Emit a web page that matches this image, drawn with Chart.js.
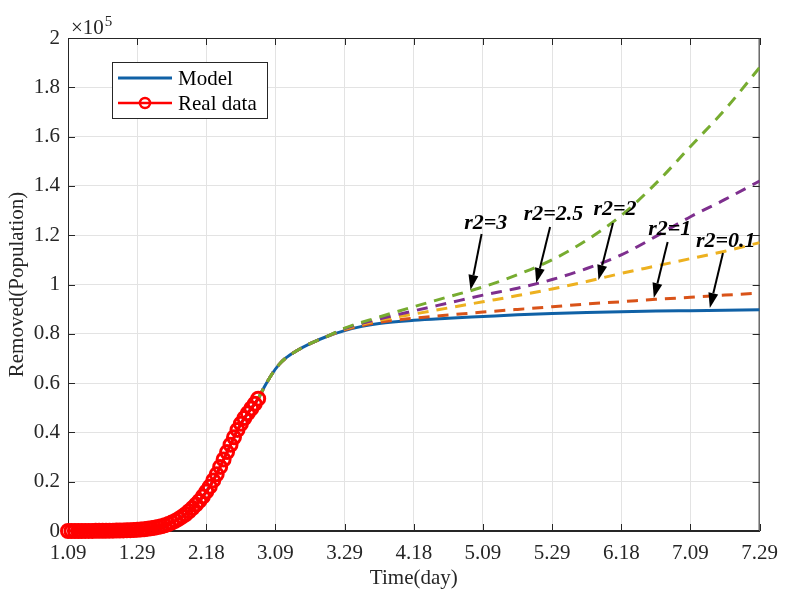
<!DOCTYPE html>
<html>
<head>
<meta charset="utf-8">
<script src="https://cdn.jsdelivr.net/npm/chart.js@4.4.1/dist/chart.umd.min.js"></script>
<style>
  html, body { margin: 0; padding: 0; background: #fff; }
  #wrap { width: 788px; height: 593px; }
</style>
</head>
<body>
<div id="wrap"><canvas id="removed-chart" width="788" height="593"></canvas></div>
<script>
// tick labels (dates, one tick every 20 days)
const xTickLabels = ["1.09", "1.29", "2.18", "3.09", "3.29", "4.18", "5.09", "5.29", "6.18", "7.09", "7.29"];
const yTickLabels = ["0", "0.2", "0.4", "0.6", "0.8", "1", "1.2", "1.4", "1.6", "1.8", "2"];
const daysPerTick = 20;

// real data, one value per day from 1.09 (x10^5 people)
const realData = [
    0, 0, 0, 0, 0, 0.0005, 0.0005, 0.0005, 0.001, 0.001,
    0.001, 0.001, 0.0015, 0.0015, 0.002, 0.002, 0.0025, 0.003, 0.0035, 0.004,
    0.005, 0.006, 0.007, 0.009, 0.011, 0.013, 0.016, 0.019, 0.023, 0.028,
    0.034, 0.041, 0.049, 0.058, 0.068, 0.08, 0.093, 0.107, 0.122, 0.14,
    0.16, 0.18, 0.205, 0.23, 0.26, 0.29, 0.32, 0.35, 0.38, 0.41,
    0.435, 0.458, 0.478, 0.497, 0.516, 0.537
];

// model curve
const modelX = [0, 0.5, 1.0, 1.2, 1.4, 1.5, 1.6, 1.7, 1.8, 1.9, 2.0, 2.1, 2.2, 2.3, 2.4, 2.5, 2.6, 2.75,
    2.85, 2.95, 3.05, 3.15, 3.3, 3.5, 3.75, 4.0, 4.25, 4.5, 5.0, 5.5, 6.0, 6.5, 7.0, 7.5, 8.0, 8.5, 9.0, 9.5, 10];
const modelY = [0, 0.0005, 0.0025, 0.006, 0.016, 0.034, 0.049, 0.068, 0.093, 0.122, 0.16, 0.205, 0.26, 0.32, 0.38, 0.435, 0.478, 0.537,
    0.59, 0.637, 0.675, 0.702, 0.73, 0.76, 0.79, 0.813, 0.83, 0.842, 0.855, 0.863, 0.87, 0.877, 0.882, 0.886, 0.889, 0.892, 0.894, 0.896, 0.898];

// r2 scenarios
const scenarioX = [2.75, 2.85, 2.95, 3.05, 3.15, 3.3, 3.5, 3.75, 4.0, 4.5, 5.0, 5.5, 6.0, 6.5, 7.0, 7.5, 8.0, 8.5, 9.0, 9.5, 10];
const r2_1 = [0.537, 0.59, 0.637, 0.675, 0.702, 0.73, 0.76, 0.79, 0.816, 0.847, 0.863, 0.876, 0.888, 0.899, 0.91, 0.921, 0.93, 0.94, 0.948, 0.957, 0.965];
const r2_2 = [0.537, 0.59, 0.637, 0.675, 0.702, 0.73, 0.76, 0.79, 0.819, 0.855, 0.88, 0.905, 0.93, 0.955, 0.982, 1.012, 1.045, 1.075, 1.105, 1.135, 1.17];
const r2_25 = [0.537, 0.59, 0.637, 0.675, 0.702, 0.73, 0.76, 0.79, 0.821, 0.86, 0.893, 0.925, 0.957, 0.985, 1.02, 1.065, 1.12, 1.195, 1.275, 1.345, 1.42];
const r2_3 = [0.537, 0.59, 0.637, 0.675, 0.702, 0.73, 0.76, 0.79, 0.823, 0.868, 0.91, 0.95, 0.99, 1.04, 1.1, 1.18, 1.28, 1.41, 1.56, 1.71, 1.88];

// arrow annotations: label, text position, arrow tail, arrow tip (data units)
const notes = [
    { text: "r2=3",   tx: 6.04, ty: 1.25, ax: 5.98, ay: 1.205, bx: 5.82, by: 0.978 },
    { text: "r2=2.5", tx: 7.02, ty: 1.285, ax: 6.97, ay: 1.233, bx: 6.77, by: 1.006 },
    { text: "r2=2",   tx: 7.91, ty: 1.305, ax: 7.88, ay: 1.249, bx: 7.67, by: 1.018 },
    { text: "r2=1",   tx: 8.70, ty: 1.225, ax: 8.67, ay: 1.172, bx: 8.47, by: 0.945 },
    { text: "r2=0.1", tx: 9.51, ty: 1.175, ax: 9.47, ay: 1.128, bx: 9.28, by: 0.905 }
];

const AXIS = '#262626';
const FONT = "'Liberation Serif', 'Times New Roman', serif";

function pts(xs, ys) {
    return xs.map((x, i) => ({ x: x, y: ys[i] }));
}

function dashed(label, ys, color, order) {
    return {
        label: label,
        data: pts(scenarioX, ys),
        showLine: true,
        borderColor: color,
        borderWidth: 3,
        borderDash: [11, 8],
        pointRadius: 0,
        cubicInterpolationMode: 'monotone',
        order: order
    };
}

// box, inward ticks, annotations, legend and exponent
const matlabLook = {
    id: 'matlabLook',
    beforeDatasetsDraw(chart) {
        const ctx = chart.ctx, a = chart.chartArea;
        const xs = chart.scales.x, ys = chart.scales.y;
        ctx.save();
        ctx.strokeStyle = AXIS;
        ctx.lineWidth = 1;
        ctx.strokeRect(a.left + 0.5, a.top + 0.5, a.right - a.left - 1, a.bottom - a.top - 1);
        ctx.beginPath();
        xs.ticks.forEach(t => {
            const px = Math.round(xs.getPixelForValue(t.value)) + 0.5;
            ctx.moveTo(px, a.bottom); ctx.lineTo(px, a.bottom - 7);
            ctx.moveTo(px, a.top); ctx.lineTo(px, a.top + 7);
        });
        ys.ticks.forEach(t => {
            const py = Math.round(ys.getPixelForValue(t.value)) + 0.5;
            ctx.moveTo(a.left, py); ctx.lineTo(a.left + 7, py);
            ctx.moveTo(a.right, py); ctx.lineTo(a.right - 7, py);
        });
        ctx.stroke();
        ctx.restore();
    },
    afterDraw(chart) {
        const ctx = chart.ctx, a = chart.chartArea;
        const xs = chart.scales.x, ys = chart.scales.y;
        ctx.save();

        // exponent
        ctx.fillStyle = AXIS;
        ctx.textBaseline = 'alphabetic';
        ctx.textAlign = 'left';
        ctx.font = "21px " + FONT;
        ctx.fillText("\u00d710", a.left + 3, a.top - 4);
        const w = ctx.measureText("\u00d710").width;
        ctx.font = "15px " + FONT;
        ctx.fillText("5", a.left + 3 + w + 1, a.top - 12);

        // arrows and labels
        ctx.strokeStyle = '#000';
        ctx.fillStyle = '#000';
        ctx.lineWidth = 2;
        notes.forEach(n => {
            const x1 = xs.getPixelForValue(n.ax), y1 = ys.getPixelForValue(n.ay);
            const x2 = xs.getPixelForValue(n.bx), y2 = ys.getPixelForValue(n.by);
            const ang = Math.atan2(y2 - y1, x2 - x1);
            const hl = 15, hw = 5;
            const bx = x2 - hl * Math.cos(ang), by = y2 - hl * Math.sin(ang);
            ctx.beginPath();
            ctx.moveTo(x1, y1); ctx.lineTo(bx, by);
            ctx.stroke();
            ctx.beginPath();
            ctx.moveTo(x2, y2);
            ctx.lineTo(bx + hw * Math.sin(ang), by - hw * Math.cos(ang));
            ctx.lineTo(bx - hw * Math.sin(ang), by + hw * Math.cos(ang));
            ctx.closePath();
            ctx.fill();

            ctx.font = "italic bold 22px " + FONT;
            ctx.textAlign = 'center';
            ctx.textBaseline = 'middle';
            ctx.fillText(n.text, xs.getPixelForValue(n.tx), ys.getPixelForValue(n.ty));
        });

        // legend box
        const lx = a.left + 44, ly = a.top + 24, lw = 155, lh = 56;
        ctx.fillStyle = '#fff';
        ctx.fillRect(lx, ly, lw, lh);
        ctx.strokeStyle = AXIS;
        ctx.lineWidth = 1;
        ctx.strokeRect(lx + 0.5, ly + 0.5, lw, lh);
        ctx.font = "21px " + FONT;
        ctx.textAlign = 'left';
        ctx.textBaseline = 'middle';
        ctx.fillStyle = '#000';
        const items = [
            { label: 'Model', color: '#1061a6', marker: false, y: ly + 16 },
            { label: 'Real data', color: '#ff0000', marker: true, y: ly + 41 }
        ];
        items.forEach(it => {
            ctx.strokeStyle = it.color;
            ctx.lineWidth = it.marker ? 2.5 : 3;
            ctx.beginPath();
            ctx.moveTo(lx + 6, it.y); ctx.lineTo(lx + 60, it.y);
            ctx.stroke();
            if (it.marker) {
                ctx.lineWidth = 2.5;
                ctx.beginPath();
                ctx.arc(lx + 33, it.y, 5, 0, Math.PI * 2);
                ctx.stroke();
            }
            ctx.fillText(it.label, lx + 66, it.y + 1);
        });
        ctx.restore();
    }
};

new Chart(document.getElementById("removed-chart"), {
    type: 'scatter',
    data: {
        datasets: [
            {
                label: 'Real data',
                data: realData.map((v, d) => ({ x: d / daysPerTick, y: v })),
                showLine: true,
                borderColor: '#ff0000',
                borderWidth: 3,
                pointRadius: 6.5,
                pointBorderWidth: 3,
                pointBorderColor: '#ff0000',
                pointBackgroundColor: 'rgba(255,255,255,0)',
                clip: false,
                order: 0
            },
            dashed('r2=3', r2_3, '#77ac30', 1),
            dashed('r2=2.5', r2_25, '#7e2f8e', 2),
            dashed('r2=2', r2_2, '#edb120', 3),
            dashed('r2=1', r2_1, '#d95319', 4),
            {
                label: 'Model',
                data: pts(modelX, modelY),
                showLine: true,
                borderColor: '#1061a6',
                borderWidth: 3,
                pointRadius: 0,
                cubicInterpolationMode: 'monotone',
                order: 5
            }
        ]
    },
    options: {
        responsive: false,
        animation: false,
        devicePixelRatio: 1,
        layout: { padding: { top: 38, right: 26, left: 0, bottom: 0 } },
        plugins: {
            legend: { display: false },
            tooltip: { enabled: false }
        },
        scales: {
            x: {
                type: 'linear',
                min: 0,
                max: 10,
                afterFit: s => { s.height = 62; },
                afterBuildTicks: s => { s.ticks = xTickLabels.map((l, i) => ({ value: i })); },
                ticks: {
                    stepSize: 1,
                    autoSkip: false,
                    maxRotation: 0,
                    padding: 10,
                    color: AXIS,
                    font: { family: FONT, size: 21 },
                    callback: v => xTickLabels[v]
                },
                grid: { color: '#e3e3e3', drawTicks: false },
                border: { color: AXIS },
                title: {
                    display: true,
                    text: 'Time(day)',
                    color: AXIS,
                    font: { family: FONT, size: 21 },
                    padding: { top: 0, bottom: 2 }
                }
            },
            y: {
                min: 0,
                max: 2,
                afterFit: s => { s.width = 68; },
                afterBuildTicks: s => { s.ticks = yTickLabels.map((l, i) => ({ value: i * 0.2 })); },
                ticks: {
                    padding: 8,
                    color: AXIS,
                    font: { family: FONT, size: 21 },
                    callback: (v, i) => yTickLabels[i]
                },
                grid: { color: '#e3e3e3', drawTicks: false },
                border: { color: AXIS },
                title: {
                    display: true,
                    text: 'Removed(Population)',
                    color: AXIS,
                    font: { family: FONT, size: 21 },
                    padding: { top: 5, bottom: 0 }
                }
            }
        }
    },
    plugins: [matlabLook]
});
</script>
</body>
</html>
